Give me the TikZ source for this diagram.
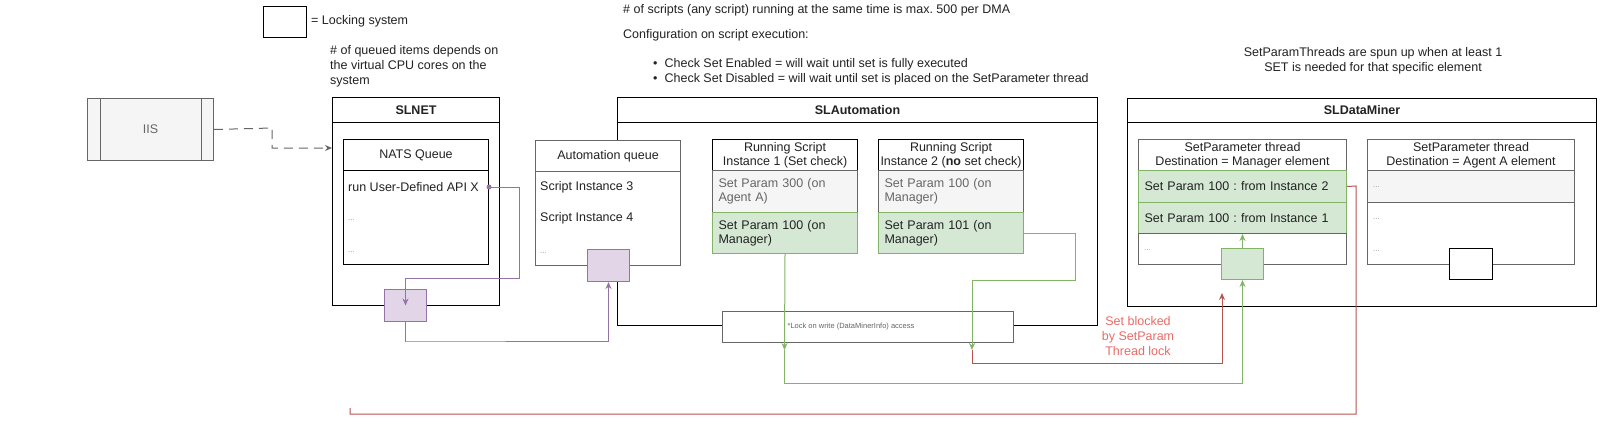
\documentclass[tikz,border=0pt]{standalone}
\usepackage{fontspec}
\setmainfont{Liberation Sans}
\usetikzlibrary{arrows.meta}
\frenchspacing
\definecolor{txt}{HTML}{222222}
\definecolor{grayfill}{HTML}{F5F5F5}
\definecolor{graybd}{HTML}{666666}
\definecolor{lightbd}{HTML}{999999}
\definecolor{greenfill}{HTML}{D5E8D4}
\definecolor{greenbd}{HTML}{82B366}
\definecolor{purplefill}{HTML}{E1D5E7}
\definecolor{purplebd}{HTML}{9673A6}
\definecolor{redbd}{HTML}{B85450}
\definecolor{redtxt}{HTML}{EA6B66}
\tikzset{
  box/.style={draw=black, line width=1pt, fill=white, anchor=north west, inner sep=0pt, text=txt, font=\fontsize{12.5}{15}\selectfont, align=center},
  rowbox/.style={box, align=left, inner xsep=6pt},
  grayrow/.style={rowbox, fill=grayfill, draw=graybd, text=graybd},
  greenrow/.style={rowbox, fill=greenfill, draw=greenbd},
  plain/.style={inner sep=0pt, text=txt, font=\fontsize{12.5}{15}\selectfont},
  dots/.style={inner sep=0pt, text=lightbd, font=\fontsize{8}{9}\selectfont, anchor=west},
  purplelock/.style={box, fill=purplefill, draw=purplebd},
  greenlock/.style={box, fill=greenfill, draw=greenbd},
  arr/.style={line width=1pt, -{Stealth[length=7pt,width=6pt]}},
  purp/.style={arr, draw=purplebd, color=purplebd},
  grn/.style={arr, draw=greenbd, color=greenbd},
  rd/.style={arr, draw=redbd, color=redbd},
}
\begin{document}
\begin{tikzpicture}[x=1pt,y=-1pt]
\useasboundingbox[fill=white] (0,0) rectangle (1600,424);

% ---- top notes ----
\node[plain, anchor=west] (n1) at (623,10) {\# of scripts (any script) running at the same time is max. 500 per DMA};
\node[plain, anchor=west] (n2) at (623,35) {Configuration on script execution:};
\node[plain, anchor=west] (b1) at (653,64) {\textbullet\hspace{7pt}Check Set Enabled = will wait until set is fully executed};
\node[plain, anchor=west] (b2) at (653,79) {\textbullet\hspace{7pt}Check Set Disabled = will wait until set is placed on the SetParameter thread};
\node[plain, align=center] (n3) at (1373,61) {SetParamThreads are spun up when at least 1\\SET is needed for that specific element};
\node[plain, align=left, anchor=north west] (n4) at (330,45) {\# of queued items depends on\\the virtual CPU cores on the\\system};

% ---- legend ----
\node[box, minimum width=43pt, minimum height=31pt] (legbox) at (263,6) {};
\node[plain, anchor=west] (legtxt) at (311,21) {= Locking system};

% ---- IIS ----
\node[box, fill=grayfill, draw=graybd, text=graybd, minimum width=126pt, minimum height=62pt] (iis) at (87,98) {IIS};
\draw[draw=graybd, line width=1pt] (iis.north west) ++(13,0) -- ++(0,62);
\draw[draw=graybd, line width=1pt] (iis.north east) ++(-13,0) -- ++(0,62);

% ---- SLNET ----
\node[box, minimum width=167pt, minimum height=208pt] (slnet) at (332,97) {};
\node[box, minimum width=167pt, minimum height=25pt, font=\fontsize{12.5}{15}\selectfont\bfseries] (slnethd) at (332,97) {SLNET};
\node[box, minimum width=145pt, minimum height=31pt] (natshd) at (343,139) {NATS Queue};
\node[box, minimum width=145pt, minimum height=94pt] (natsbody) at (343,170) {};
\node[plain, anchor=west] (natsrun) at (348,187) {run User-Defined API X};
\node[dots] (natsd1) at (348,220) {...};
\node[dots] (natsd2) at (348,252) {...};

% ---- SLAutomation ----
\node[box, minimum width=480pt, minimum height=228pt] (slauto) at (617,97) {};
\node[box, minimum width=480pt, minimum height=25pt, font=\fontsize{12.5}{15}\selectfont\bfseries] (slautohd) at (617,97) {SLAutomation};
\node[box, draw=graybd, minimum width=145pt, minimum height=31pt] (aqhd) at (535,140) {Automation queue};
\node[box, draw=graybd, minimum width=145pt, minimum height=94pt] (aqbody) at (535,171) {};
\node[plain, anchor=west] (aq3) at (540,187) {Script Instance 3};
\node[plain, anchor=west] (aq4) at (540,218) {Script Instance 4};
\node[dots] (aqd) at (540,253) {...};

\node[box, minimum width=145pt, minimum height=31pt, font=\fontsize{12.5}{14}\selectfont] (i1hd) at (712,139) {Running Script\\Instance 1 (Set check)};
\node[grayrow, minimum width=145pt, minimum height=42pt, text width=133pt, font=\fontsize{12.5}{14}\selectfont] (i1r1) at (712,170) {Set Param 300 (on\\Agent A)};
\node[greenrow, minimum width=145pt, minimum height=41pt, text width=133pt, font=\fontsize{12.5}{14}\selectfont] (i1r2) at (712,212) {Set Param 100 (on\\Manager)};

\node[box, minimum width=145pt, minimum height=31pt, font=\fontsize{12.5}{14}\selectfont] (i2hd) at (878,139) {Running Script\\Instance 2 (\textbf{no} set check)};
\node[grayrow, minimum width=145pt, minimum height=42pt, text width=133pt, font=\fontsize{12.5}{14}\selectfont] (i2r1) at (878,170) {Set Param 100 (on\\Manager)};
\node[greenrow, minimum width=145pt, minimum height=41pt, text width=133pt, font=\fontsize{12.5}{14}\selectfont] (i2r2) at (878,212) {Set Param 101 (on\\Manager)};

\node[box, draw=graybd, minimum width=291pt, minimum height=31pt] (wlock) at (722,311) {};
\node[inner sep=0pt, text=graybd, font=\fontsize{7.5}{8}\selectfont] (wlocktxt) at (851,326.5) {*Lock on write (DataMinerInfo) access};

% ---- SLDataMiner ----
\node[box, minimum width=469pt, minimum height=208pt] (sldm) at (1127,98) {};
\node[box, minimum width=469pt, minimum height=24pt, font=\fontsize{12.5}{15}\selectfont\bfseries] (sldmhd) at (1127,98) {SLDataMiner};

\node[box, draw=graybd, minimum width=208pt, minimum height=31pt, font=\fontsize{12.5}{14}\selectfont] (s1hd) at (1138,139) {SetParameter thread\\Destination = Manager element};
\node[greenrow, minimum width=208pt, minimum height=32pt, text width=196pt] (s1r1) at (1138,170) {Set Param 100 : from Instance 2};
\node[greenrow, minimum width=208pt, minimum height=31pt, text width=196pt] (s1r2) at (1138,202) {Set Param 100 : from Instance 1};
\node[rowbox, draw=graybd, minimum width=208pt, minimum height=31pt] (s1r3) at (1138,233) {};
\node[dots] (s1d) at (1144,250) {...};

\node[box, draw=graybd, minimum width=207pt, minimum height=31pt, font=\fontsize{12.5}{14}\selectfont] (s2hd) at (1367,139) {SetParameter thread\\Destination = Agent A element};
\node[grayrow, minimum width=207pt, minimum height=32pt] (s2r1) at (1367,170) {};
\node[dots] (s2d1) at (1373,187) {...};
\node[rowbox, draw=graybd, minimum width=207pt, minimum height=62pt] (s2r2) at (1367,202) {};
\node[dots] (s2d2) at (1373,219) {...};
\node[dots] (s2d3) at (1373,251) {...};

% ---- locks ----
\node[purplelock, minimum width=42pt, minimum height=32pt] (lockA) at (384,289) {};
\node[purplelock, minimum width=42pt, minimum height=32pt] (lockB) at (587,249) {};
\node[greenlock, minimum width=42pt, minimum height=31pt] (lockG) at (1221,248) {};
\node[box, minimum width=43pt, minimum height=31pt] (lockK) at (1449,248) {};

% ---- coordinates ----
\coordinate (d1) at (272,128);
\coordinate (p1) at (519,278);
\coordinate (p2) at (405,341);
\coordinate (g1end) at (784.5,350);
\coordinate (g1b) at (784.5,383);
\coordinate (g2a) at (1075,280);
\coordinate (g2end) at (972,350);
\coordinate (r1b) at (972,363);
\coordinate (r1end) at (1222,293);
\coordinate (r2a) at (1356,414);
\coordinate (r2end) at (350,408);

% ---- connectors ----
\draw[arr, draw=graybd, color=graybd, dash pattern=on 9pt off 6pt] (iis.east) -- (d1) |- (slnet.west |- 0,148);

\fill[purplebd] (natsbody.east |- natsrun) circle (2.5pt);
\draw[purp] (natsbody.east |- natsrun) -| (p1) -| (lockA.center);
\draw[purp] (lockA.south) |- (p2) -| (lockB.south);

\draw[grn] (i1r2.south) -- (g1end);
\draw[grn] (g1end) -- (g1b) -| (lockG.south);
\draw[grn] (lockG.north) -- (s1r2.south -| lockG.north);
\draw[grn] (i2r2.east) -| (g2a) -| (g2end);

\draw[rd] (g2end) |- (r1b) -| (r1end);
\node[inner sep=0pt, text=redtxt, align=center, font=\fontsize{12.5}{15}\selectfont] (blk) at (1138,336) {Set blocked\\by SetParam\\Thread lock};

\draw[line width=1pt, draw=redbd] (s1r1.east) -- (1356,186) |- (r2a) -| (r2end);
\end{tikzpicture}
\end{document}
